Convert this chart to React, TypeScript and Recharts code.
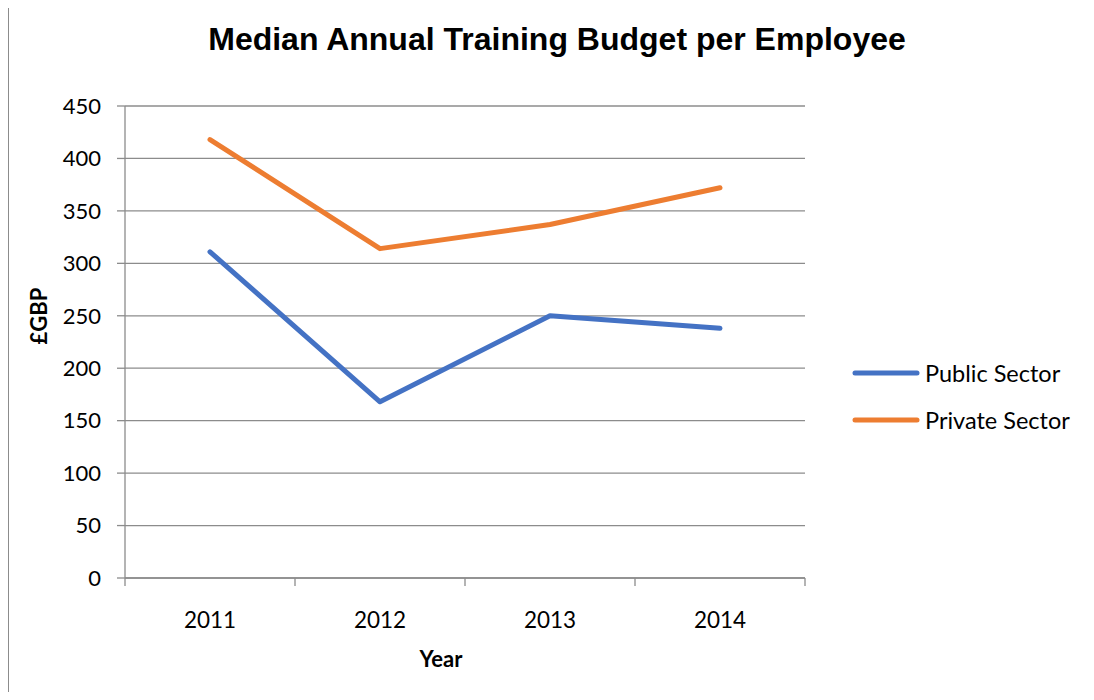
import React from 'react';
import { LineChart, Line, XAxis, YAxis, CartesianGrid } from 'recharts';

const years = ['2011', '2012', '2013', '2014'];
const publicSector = [311, 168, 250, 238];
const privateSector = [418, 314, 337, 372];
const yTicks = [0, 50, 100, 150, 200, 250, 300, 350, 400, 450];

const data = years.map((year, i) => ({
  year,
  publicSector: publicSector[i],
  privateSector: privateSector[i],
}));

const FONT = 'Lato, "Open Sans", sans-serif';
const AXIS = '#8c8c8c';
const HALF_BAND = 85;

const series = [
  { key: 'publicSector', name: 'Public Sector', color: '#4472C4' },
  { key: 'privateSector', name: 'Private Sector', color: '#ED7D31' },
];

// category tick: label at band centre, tick marks at band edges
const YearTick = (props: any) => {
  const { x, payload, index, visibleTicksCount } = props;
  const top = 578;
  const last = index === (visibleTicksCount ?? years.length) - 1;
  return (
    <g>
      <line x1={x - HALF_BAND} y1={top} x2={x - HALF_BAND} y2={top + 8} stroke={AXIS} strokeWidth={1.3} />
      {last && <line x1={x + HALF_BAND} y1={top} x2={x + HALF_BAND} y2={top + 8} stroke={AXIS} strokeWidth={1.3} />}
      <text x={x} y={top + 50} textAnchor="middle" fontFamily={FONT} fontSize={22.5} fill="#000">
        {payload.value}
      </text>
    </g>
  );
};

const LegendBox = () => (
  <div style={{ position: 'absolute', left: 849, top: 349, fontFamily: FONT, fontSize: 23.5, color: '#000' }}>
    {series.map((s) => (
      <div key={s.key} style={{ display: 'flex', alignItems: 'center', height: 47 }}>
        <svg width={76} height={10}>
          <line x1={6} y1={5} x2={68} y2={5} stroke={s.color} strokeWidth={5} strokeLinecap="round" />
        </svg>
        <span>{s.name}</span>
      </div>
    ))}
  </div>
);

export default function App() {
  return (
    <div style={{ position: 'relative', width: 1094, height: 700, margin: -8, background: '#fff', overflow: 'hidden' }}>
      {/* chart frame */}
      <div
        style={{
          position: 'absolute',
          left: 8,
          top: 6,
          width: 1100,
          height: 720,
          border: '1px solid #8c8c8c',
          boxSizing: 'border-box',
        }}
      />
      <div
        style={{
          position: 'absolute',
          top: 21,
          left: 0,
          width: 1114,
          textAlign: 'center',
          fontFamily: '"Liberation Sans", Arial, sans-serif',
          fontWeight: 700,
          fontSize: 32,
        }}
      >
        Median Annual Training Budget per Employee
      </div>
      <div style={{ position: 'absolute', left: 0, top: 0 }}>
        <LineChart width={1094} height={700} data={data} margin={{ top: 106, right: 289, bottom: 0, left: 0 }}>
          <CartesianGrid vertical={false} stroke={AXIS} strokeWidth={1.3} />
          <XAxis
            dataKey="year"
            height={122}
            padding={{ left: HALF_BAND, right: HALF_BAND }}
            stroke={AXIS}
            strokeWidth={1.3}
            tickLine={false}
            interval={0}
            tick={<YearTick />}
            label={() => (
              <text x={441} y={667} textAnchor="middle" fontFamily={FONT} fontWeight={700} fontSize={22} fill="#000">
                Year
              </text>
            )}
          />
          <YAxis
            domain={[0, 450]}
            ticks={yTicks}
            width={125}
            stroke={AXIS}
            strokeWidth={1.3}
            tickSize={8}
            tickMargin={16}
            tick={{ fill: '#000', fontSize: 22, fontFamily: FONT }}
            label={() => (
              <text
                x={38}
                y={316}
                textAnchor="middle"
                transform="rotate(-90, 38, 316)"
                dominantBaseline="central"
                fontFamily={FONT}
                fontWeight={700}
                fontSize={22}
                fill="#000"
              >
                £GBP
              </text>
            )}
          />
          {series.map((s) => (
            <Line
              key={s.key}
              type="linear"
              dataKey={s.key}
              name={s.name}
              stroke={s.color}
              strokeWidth={5}
              strokeLinecap="round"
              strokeLinejoin="round"
              dot={false}
              activeDot={false}
              isAnimationActive={false}
            />
          ))}
        </LineChart>
      </div>
      <LegendBox />
    </div>
  );
}
